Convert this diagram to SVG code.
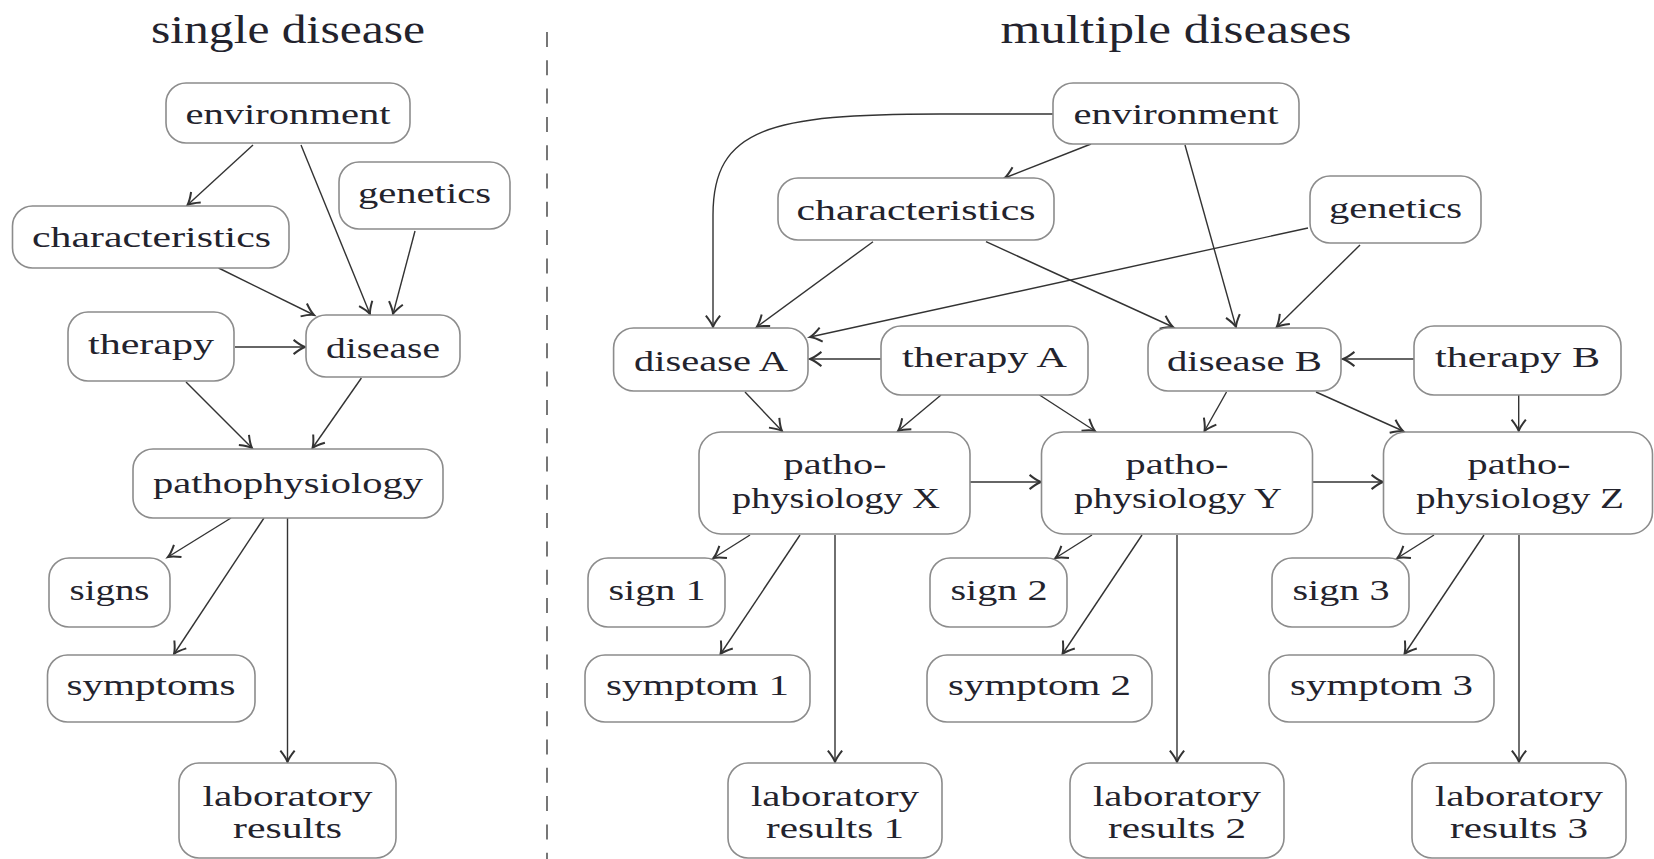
<svg xmlns="http://www.w3.org/2000/svg" width="1654" height="859" viewBox="0 0 1654 859">
<defs>
<style>
.box{fill:#fff;stroke:#8c8c8c;stroke-width:1.6}
.t{font-family:"Liberation Serif","Times New Roman",serif;font-size:30px;fill:#23232d;text-anchor:middle}
.title{font-size:40px}
.e{fill:none;stroke:#333;stroke-width:1.4;marker-end:url(#arr)}
.sep{stroke:#555;stroke-width:1.6;stroke-dasharray:15 13.3}
</style>
<marker id="arr" markerUnits="userSpaceOnUse" markerWidth="20" markerHeight="20" viewBox="-10 -7 12 14" refX="0" refY="0" orient="auto">
<path d="M-8,-5 Q-3,-1 0,0 Q-3,1 -8,5" fill="none" stroke="#333" stroke-width="1.4"/>
</marker>
</defs>
<rect width="1654" height="859" fill="#fff"/>
<g id="titles">
<text class="t title" x="288" y="43" textLength="274" lengthAdjust="spacingAndGlyphs">single disease</text>
<text class="t title" x="1176" y="43" textLength="351" lengthAdjust="spacingAndGlyphs">multiple diseases</text>
</g>
<line id="separator" class="sep" x1="547" y1="32" x2="547" y2="859"/>
<g id="connectors">
<line class="e" x1="253" y1="145" x2="187.5" y2="205"/>
<line class="e" x1="301" y1="145" x2="370" y2="314"/>
<line class="e" x1="415" y1="231" x2="393" y2="314"/>
<line class="e" x1="218.6" y1="268" x2="314" y2="315"/>
<line class="e" x1="235" y1="347" x2="305" y2="347"/>
<line class="e" x1="186" y1="382" x2="252" y2="448"/>
<line class="e" x1="361.4" y1="378" x2="312.5" y2="448"/>
<line class="e" x1="231" y1="518" x2="168" y2="557"/>
<line class="e" x1="264" y1="518" x2="174" y2="654"/>
<line class="e" x1="287.5" y1="518" x2="287.5" y2="762"/>
<path class="e" d="M1053,114 L940,114 C770,114 713,128 713,215 L713,327"/>
<line class="e" x1="1091" y1="144" x2="1004.5" y2="178"/>
<line class="e" x1="1185" y1="145" x2="1236" y2="327"/>
<line class="e" x1="1360" y1="245" x2="1276.7" y2="327"/>
<line class="e" x1="1308" y1="228" x2="810" y2="337"/>
<line class="e" x1="873" y1="241.7" x2="756.7" y2="327"/>
<line class="e" x1="986" y1="241.7" x2="1173" y2="327"/>
<line class="e" x1="881" y1="359" x2="810" y2="359"/>
<line class="e" x1="1414" y1="359" x2="1343" y2="359"/>
<line class="e" x1="745" y1="392" x2="782" y2="431"/>
<line class="e" x1="941" y1="395" x2="898" y2="431"/>
<line class="e" x1="1039.5" y1="395" x2="1095" y2="431"/>
<line class="e" x1="1226.5" y1="392" x2="1204.5" y2="431"/>
<line class="e" x1="1316" y1="392" x2="1403" y2="431"/>
<line class="e" x1="1518.7" y1="395" x2="1518.7" y2="431"/>
<line class="e" x1="970" y1="482" x2="1041" y2="482"/>
<line class="e" x1="1312" y1="482" x2="1383" y2="482"/>
<line class="e" x1="750" y1="535" x2="713.5" y2="558"/>
<line class="e" x1="800" y1="535" x2="720.5" y2="654"/>
<line class="e" x1="835" y1="535" x2="835" y2="762"/>
<line class="e" x1="1092" y1="535" x2="1055.5" y2="558"/>
<line class="e" x1="1142" y1="535" x2="1062.5" y2="654"/>
<line class="e" x1="1177" y1="535" x2="1177" y2="762"/>
<line class="e" x1="1434" y1="535" x2="1397.5" y2="558"/>
<line class="e" x1="1484" y1="535" x2="1404.5" y2="654"/>
<line class="e" x1="1519" y1="535" x2="1519" y2="762"/>
</g>
<g id="env-left"><rect class="box" x="166" y="83" width="244" height="60" rx="20"/><text class="t" x="288" y="124" textLength="205" lengthAdjust="spacingAndGlyphs">environment</text></g>
<g id="char-left"><rect class="box" x="12.5" y="206" width="276.5" height="62" rx="20"/><text class="t" x="151.5" y="247" textLength="239" lengthAdjust="spacingAndGlyphs">characteristics</text></g>
<g id="gen-left"><rect class="box" x="339" y="162" width="171" height="67" rx="20"/><text class="t" x="424.5" y="203" textLength="133" lengthAdjust="spacingAndGlyphs">genetics</text></g>
<g id="therapy-left"><rect class="box" x="68" y="312" width="166" height="69" rx="20"/><text class="t" x="151" y="354" textLength="126" lengthAdjust="spacingAndGlyphs">therapy</text></g>
<g id="disease-left"><rect class="box" x="306" y="315" width="154" height="62" rx="20"/><text class="t" x="383" y="358" textLength="114" lengthAdjust="spacingAndGlyphs">disease</text></g>
<g id="patho-left"><rect class="box" x="133" y="449" width="310" height="69" rx="20"/><text class="t" x="288" y="493" textLength="270" lengthAdjust="spacingAndGlyphs">pathophysiology</text></g>
<g id="signs-left"><rect class="box" x="49" y="558" width="121" height="69" rx="20"/><text class="t" x="109.5" y="600" textLength="80" lengthAdjust="spacingAndGlyphs">signs</text></g>
<g id="symptoms-left"><rect class="box" x="47.5" y="655" width="207.5" height="67" rx="20"/><text class="t" x="151" y="695" textLength="169" lengthAdjust="spacingAndGlyphs">symptoms</text></g>
<g id="lab-left"><rect class="box" x="179" y="763" width="217" height="95" rx="20"/><text class="t" x="287.5" y="806" textLength="170" lengthAdjust="spacingAndGlyphs">laboratory</text><text class="t" x="287.5" y="838" textLength="109" lengthAdjust="spacingAndGlyphs">results</text></g>
<g id="env-right"><rect class="box" x="1053" y="83" width="246" height="61" rx="20"/><text class="t" x="1176" y="124" textLength="205" lengthAdjust="spacingAndGlyphs">environment</text></g>
<g id="char-right"><rect class="box" x="778" y="178" width="276" height="62" rx="20"/><text class="t" x="916" y="220" textLength="239" lengthAdjust="spacingAndGlyphs">characteristics</text></g>
<g id="gen-right"><rect class="box" x="1310" y="176" width="171" height="67" rx="20"/><text class="t" x="1395.5" y="218" textLength="133" lengthAdjust="spacingAndGlyphs">genetics</text></g>
<g id="disease-a"><rect class="box" x="613.6" y="328" width="194.4" height="63" rx="20"/><text class="t" x="711" y="370.5" textLength="154" lengthAdjust="spacingAndGlyphs">disease A</text></g>
<g id="therapy-a"><rect class="box" x="881" y="326" width="207" height="69" rx="20"/><text class="t" x="984.5" y="366.5" textLength="165" lengthAdjust="spacingAndGlyphs">therapy A</text></g>
<g id="disease-b"><rect class="box" x="1148" y="328" width="193" height="63" rx="20"/><text class="t" x="1244.5" y="370.5" textLength="155" lengthAdjust="spacingAndGlyphs">disease B</text></g>
<g id="therapy-b"><rect class="box" x="1414" y="326" width="207" height="69" rx="20"/><text class="t" x="1517.5" y="366.5" textLength="165" lengthAdjust="spacingAndGlyphs">therapy B</text></g>
<g id="patho-x"><rect class="box" x="699" y="432" width="271" height="102" rx="22"/><text class="t" x="835" y="474" textLength="103" lengthAdjust="spacingAndGlyphs">patho-</text><text class="t" x="836" y="508" textLength="208" lengthAdjust="spacingAndGlyphs">physiology X</text></g>
<g id="patho-y"><rect class="box" x="1041.5" y="432" width="271" height="102" rx="22"/><text class="t" x="1177" y="474" textLength="103" lengthAdjust="spacingAndGlyphs">patho-</text><text class="t" x="1178" y="508" textLength="208" lengthAdjust="spacingAndGlyphs">physiology Y</text></g>
<g id="patho-z"><rect class="box" x="1383.5" y="432" width="269" height="102" rx="22"/><text class="t" x="1519" y="474" textLength="103" lengthAdjust="spacingAndGlyphs">patho-</text><text class="t" x="1520" y="508" textLength="208" lengthAdjust="spacingAndGlyphs">physiology Z</text></g>
<g id="sign-1"><rect class="box" x="588" y="558" width="137" height="69" rx="20"/><text class="t" x="657" y="600" textLength="97" lengthAdjust="spacingAndGlyphs">sign 1</text></g>
<g id="sign-2"><rect class="box" x="930" y="558" width="137" height="69" rx="20"/><text class="t" x="999" y="600" textLength="97" lengthAdjust="spacingAndGlyphs">sign 2</text></g>
<g id="sign-3"><rect class="box" x="1272" y="558" width="137" height="69" rx="20"/><text class="t" x="1341" y="600" textLength="97" lengthAdjust="spacingAndGlyphs">sign 3</text></g>
<g id="symptom-1"><rect class="box" x="585" y="655" width="225" height="67" rx="20"/><text class="t" x="697.5" y="695" textLength="183" lengthAdjust="spacingAndGlyphs">symptom 1</text></g>
<g id="symptom-2"><rect class="box" x="927" y="655" width="225" height="67" rx="20"/><text class="t" x="1039.5" y="695" textLength="183" lengthAdjust="spacingAndGlyphs">symptom 2</text></g>
<g id="symptom-3"><rect class="box" x="1269" y="655" width="225" height="67" rx="20"/><text class="t" x="1381.5" y="695" textLength="183" lengthAdjust="spacingAndGlyphs">symptom 3</text></g>
<g id="lab-1"><rect class="box" x="728" y="763" width="214" height="95" rx="20"/><text class="t" x="835" y="806" textLength="168" lengthAdjust="spacingAndGlyphs">laboratory</text><text class="t" x="835" y="838" textLength="138" lengthAdjust="spacingAndGlyphs">results 1</text></g>
<g id="lab-2"><rect class="box" x="1070" y="763" width="214" height="95" rx="20"/><text class="t" x="1177" y="806" textLength="168" lengthAdjust="spacingAndGlyphs">laboratory</text><text class="t" x="1177" y="838" textLength="138" lengthAdjust="spacingAndGlyphs">results 2</text></g>
<g id="lab-3"><rect class="box" x="1412" y="763" width="214" height="95" rx="20"/><text class="t" x="1519" y="806" textLength="168" lengthAdjust="spacingAndGlyphs">laboratory</text><text class="t" x="1519" y="838" textLength="138" lengthAdjust="spacingAndGlyphs">results 3</text></g>
</svg>
